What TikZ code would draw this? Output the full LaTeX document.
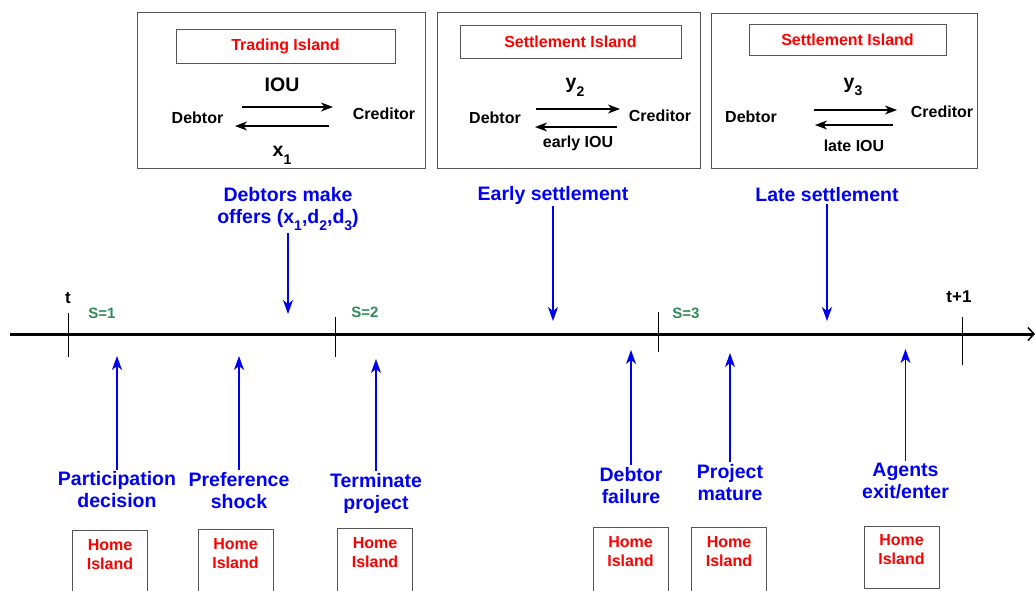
\documentclass[tikz,border=0pt]{standalone}
\usepackage{fontspec}
\setmainfont{Liberation Sans}
\usetikzlibrary{arrows.meta}
\definecolor{evgreen}{RGB}{46,139,87}
\definecolor{boxgray}{RGB}{85,85,85}
\definecolor{evblue}{RGB}{0,0,245}
\definecolor{evred}{RGB}{255,0,0}
% lowered index used in the panel and offer labels
\newcommand{\lowidx}[1]{\raisebox{-0.75ex}{\fontsize{14}{14}\selectfont #1}}
\begin{document}
\begin{tikzpicture}[x=1pt,y=-1pt,
  every node/.style={inner sep=2pt, font=\bfseries},
  panel/.style={draw=boxgray, line width=1pt},
  titlebox/.style={draw=boxgray, line width=1pt, text=evred, font=\bfseries\fontsize{16}{19}\selectfont},
  party/.style={font=\bfseries\fontsize{16}{19}\selectfont},
  flowbig/.style={font=\bfseries\fontsize{19.5}{22}\selectfont},
  flowsmall/.style={font=\bfseries\fontsize{16}{19}\selectfont},
  flow/.style={draw=black, line width=1.1pt, -{Stealth[length=12pt,width=9pt,inset=3.5pt]}},
  eventlbl/.style={text=evblue, align=center, font=\bfseries\fontsize{19.5}{22}\selectfont},
  eventarrow/.style={draw=evblue, line width=1.1pt, -{Stealth[length=14pt,width=10pt,inset=4pt]}},
  timeline/.style={draw=black, line width=3pt, -{Straight Barb[length=6pt,width=13pt,line width=1.5pt]}},
  tick/.style={draw=black, line width=1pt},
  stagelbl/.style={text=evgreen, font=\bfseries\fontsize{15}{18}\selectfont},
  timelbl/.style={font=\bfseries\fontsize{17}{20}\selectfont},
  homebox/.style={draw=boxgray, line width=1pt, minimum width=75pt},
  homelbl/.style={text=evred, align=center, font=\bfseries\fontsize{16}{19}\selectfont}
]
\clip (0,0) rectangle (1035,590);

% ---- island panels ----
\node[panel, minimum width=288pt, minimum height=156pt] (p1) at (281.5,90) {};
\node[panel, minimum width=263pt, minimum height=156pt] (p2) at (568.5,90) {};
\node[panel, minimum width=266pt, minimum height=155pt] (p3) at (844,90.5) {};

\node[titlebox, minimum width=219pt, minimum height=34pt] (t1) at (285.5,46) {Trading Island};
\node[titlebox, minimum width=221pt, minimum height=33pt] (t2) at (570.5,41.5) {Settlement Island};
\node[titlebox, minimum width=197pt, minimum height=31pt] (t3) at (847.5,39.5) {Settlement Island};

\node[party] (d1) at (197.5,118) {Debtor};
\node[party] (c1) at (384,114) {Creditor};
\node[party] (d2) at (495,118) {Debtor};
\node[party] (c2) at (660,116) {Creditor};
\node[party] (d3) at (751,117) {Debtor};
\node[party] (c3) at (942,112) {Creditor};

% exchange arrows
\coordinate (f1a) at (242,107); \coordinate (f1b) at (333,107);
\coordinate (g1a) at (329,126); \coordinate (g1b) at (235,126);
\coordinate (f2a) at (536,109); \coordinate (f2b) at (620,109);
\coordinate (g2a) at (617,127); \coordinate (g2b) at (535,127);
\coordinate (f3a) at (814,110); \coordinate (f3b) at (897,110);
\coordinate (g3a) at (893,125); \coordinate (g3b) at (815,125);
\draw[flow] (f1a) -- (f1b);
\draw[flow] (g1a) -- (g1b);
\draw[flow] (f2a) -- (f2b);
\draw[flow] (g2a) -- (g2b);
\draw[flow] (f3a) -- (f3b);
\draw[flow] (g3a) -- (g3b);

\node[flowbig] (iou) at (282,85) {IOU};
\node[flowbig] (x1) at (282,155) {x\lowidx{1}};
\node[flowbig] (y2) at (575,87) {y\lowidx{2}};
\node[flowsmall] (eiou) at (578,143.5) {early IOU};
\node[flowbig] (y3) at (853,87) {y\lowidx{3}};
\node[flowsmall] (liou) at (854,146) {late IOU};

% ---- events above the time line ----
\node[eventlbl] (offers) at (288,209) {Debtors make\\offers (x\lowidx{1},d\lowidx{2},d\lowidx{3})};
\node[eventlbl] (early) at (553,195) {Early settlement};
\node[eventlbl] (late) at (827,195) {Late settlement};
\coordinate (offersT) at (288,314);
\coordinate (earlyT) at (553,321);
\coordinate (lateT) at (827,321);
\draw[eventarrow] (offers.south) -- (offersT);
\draw[eventarrow] (early.south) -- (earlyT);
\draw[eventarrow] (late.south) -- (lateT);

% ---- time line ----
\coordinate (tl0) at (10,334);
\coordinate (tl1) at (1035,334);
\draw[timeline] (tl0) -- (tl1);

\coordinate (k1a) at (68,313);  \coordinate (k1b) at (68,357);
\coordinate (k2a) at (335,317); \coordinate (k2b) at (335,357);
\coordinate (k3a) at (658,312); \coordinate (k3b) at (658,352);
\coordinate (k4a) at (962,317); \coordinate (k4b) at (962,365);
\draw[tick] (k1a) -- (k1b);
\draw[tick] (k2a) -- (k2b);
\draw[tick] (k3a) -- (k3b);
\draw[tick] (k4a) -- (k4b);

\node[timelbl] (tnow) at (68,298) {t};
\node[timelbl] (tnext) at (959,297) {t+1};
\node[stagelbl] (s1) at (102,313) {S=1};
\node[stagelbl] (s2) at (365,312) {S=2};
\node[stagelbl] (s3) at (686,313) {S=3};

% ---- events below the time line ----
\node[eventlbl] (part) at (117,490) {Participation\\decision};
\node[eventlbl] (pref) at (239,490.5) {Preference\\shock};
\node[eventlbl] (term) at (376,493.5) {Terminate\\project};
\node[eventlbl] (fail) at (631,485.5) {Debtor\\failure};
\node[eventlbl] (mat) at (730,482.5) {Project\\mature};
\node[eventlbl] (agents) at (905.5,481) {Agents\\exit/enter};

\coordinate (partT) at (117,356);
\coordinate (prefT) at (239,356);
\coordinate (termT) at (376,359);
\coordinate (failT) at (631,350);
\coordinate (matT) at (730,353);
\coordinate (agentsT) at (905.5,349);
\draw[eventarrow] (part.north) -- (partT);
\draw[eventarrow] (pref.north) -- (prefT);
\draw[eventarrow] (term.north) -- (termT);
\draw[eventarrow] (fail.north) -- (failT);
\draw[eventarrow] (mat.north) -- (matT);
\draw[eventarrow] (agents.north) -- (agentsT);

% ---- home islands ----
\node[homebox, minimum height=90pt, anchor=north] (h1) at (110,530) {};
\node[homebox, minimum height=90pt, anchor=north] (h2) at (235.5,529) {};
\node[homebox, minimum height=90pt, anchor=north] (h3) at (375,528) {};
\node[homebox, minimum height=90pt, anchor=north] (h4) at (630.5,527) {};
\node[homebox, minimum height=90pt, anchor=north] (h5) at (729,527) {};
\node[homebox, minimum height=62pt, anchor=north] (h6) at (901.5,526) {};
\node[homelbl] (hl1) at ([yshift=-25pt]h1.north) {Home\\Island};
\node[homelbl] (hl2) at ([yshift=-25pt]h2.north) {Home\\Island};
\node[homelbl] (hl3) at ([yshift=-25pt]h3.north) {Home\\Island};
\node[homelbl] (hl4) at ([yshift=-25pt]h4.north) {Home\\Island};
\node[homelbl] (hl5) at ([yshift=-25pt]h5.north) {Home\\Island};
\node[homelbl] (hl6) at ([yshift=-24pt]h6.north) {Home\\Island};
\end{tikzpicture}
\end{document}
